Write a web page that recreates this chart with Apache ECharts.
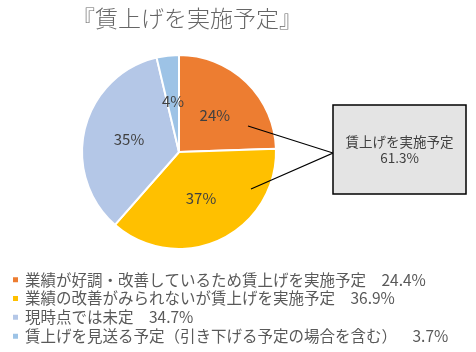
<!DOCTYPE html>
<html>
<head>
<meta charset="utf-8">
<script src="https://cdn.jsdelivr.net/npm/echarts@6/dist/echarts.min.js"></script>
<style>html,body{margin:0;padding:0;background:#fff}#c{width:476px;height:352px}</style>
</head>
<body>
<div id="c"></div>
<script>
const titleText = '『賃上げを実施予定』';
const categories = [
  '業績が好調・改善しているため賃上げを実施予定',
  '業績の改善がみられないが賃上げを実施予定',
  '現時点では未定',
  '賃上げを見送る予定（引き下げる予定の場合を含む）'
];
const values = [24.4, 36.9, 34.7, 3.7];
const colors = ['#ED7D31', '#FFC000', '#B4C7E7', '#9DC3E6'];
const calloutLabel = '賃上げを実施予定';
const calloutValue = '61.3%';

const FONT = '"Noto Sans CJK JP", "Noto Sans", sans-serif';
const chart = echarts.init(document.getElementById('c'));
const valueMap = {};
categories.forEach((c, i) => valueMap[c] = values[i]);

const legends = categories.map((c, i) => ({
  orient: 'vertical',
  left: 6, top: 267 + i * 18.8,
  itemWidth: 7, itemHeight: 7,
  icon: 'rect',
  data: [c],
  formatter: name => name + (i === 3 ? '\u3000\u2002' : '\u3000') + valueMap[name].toFixed(1) + '%',
  textStyle: { fontFamily: FONT, fontSize: 15.5, color: '#595959', padding: [0, 0, 0, 1] }
}));

chart.setOption({
  animation: false,
  title: {
    text: titleText,
    left: 67, top: 2,
    textStyle: { fontFamily: FONT, fontSize: 23, fontWeight: 300, color: '#666666' }
  },
  legend: legends,
  series: [{
    type: 'pie',
    center: [179, 152],
    radius: 97,
    startAngle: 90,
    clockwise: true,
    data: categories.map((c, i) => ({ name: c, value: values[i], itemStyle: { color: colors[i] } })),
    itemStyle: { borderColor: '#fff', borderWidth: 2 },
    label: {
      position: 'inside',
      formatter: p => Math.round(p.percent) + '%',
      fontFamily: FONT, fontSize: 15, color: '#404040'
    },
    labelLine: { show: false },
    emphasis: { disabled: true }
  }],
  graphic: [
    { type: 'polyline', shape: { points: [[248, 126], [333, 153], [251, 189]] },
      style: { stroke: '#000', lineWidth: 1.2, fill: null }, z: 10 },
    { type: 'rect', shape: { x: 333, y: 105, width: 133, height: 89 },
      style: { fill: '#E4E4E4', stroke: '#000', lineWidth: 1.5 }, z: 10 },
    { type: 'text', x: 399.5, y: 142, z: 11,
      style: { text: calloutLabel, fontFamily: FONT, fontSize: 13.5, fill: '#404040', align: 'center', verticalAlign: 'middle' } },
    { type: 'text', x: 399.5, y: 158, z: 11,
      style: { text: calloutValue, fontFamily: FONT, fontSize: 13.5, fill: '#404040', align: 'center', verticalAlign: 'middle' } }
  ]
});
</script>
</body>
</html>
